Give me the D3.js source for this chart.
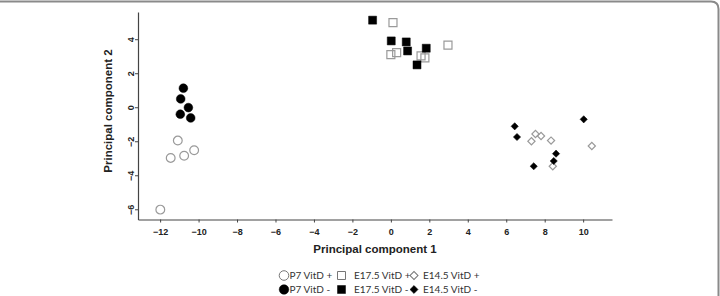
<!DOCTYPE html>
<html>
<head>
<meta charset="utf-8">
<script src="https://cdn.jsdelivr.net/npm/d3@7"></script>
<style>
  body { margin: 0; background: #fff; }
  svg { display: block; }
</style>
</head>
<body>
<div class="chart"></div>
<script>
// PCA scores
var p7Plus   = [[-11.08,-1.96],[-11.45,-2.98],[-10.75,-2.85],[-10.23,-2.53],[-11.99,-6.02]];
var p7Minus  = [[-10.79,1.12],[-10.93,0.49],[-10.53,-0.02],[-10.95,-0.41],[-10.41,-0.63]];
var e175Plus = [[0.11,4.98],[0.0,3.09],[0.3,3.21],[1.57,3.02],[1.77,2.9],[2.97,3.65]];
var e175Minus= [[-0.95,5.12],[0.02,3.9],[0.80,3.84],[0.87,3.31],[1.84,3.47],[1.36,2.49]];
var e145Plus = [[7.52,-1.57],[7.81,-1.69],[7.31,-2.0],[8.33,-1.96],[10.45,-2.28],[8.42,-3.47]];
var e145Minus= [[6.44,-1.12],[6.56,-1.75],[10.03,-0.71],[8.59,-2.73],[8.47,-3.16],[7.43,-3.47]];

var xTicks = [-12,-10,-8,-6,-4,-2,0,2,4,6,8,10];
var yTicks = [-6,-4,-2,0,2,4];

var legendLabels = ["P7 VitD +","E17.5 VitD +","E14.5 VitD +","P7 VitD -","E17.5 VitD -","E14.5 VitD -"];

var w = 720, h = 296;

var svg = d3.select("div.chart")
            .append("svg")
            .attr("width", w)
            .attr("height", h);

// frame of the figure (top + right edge, rounded corner)
svg.append("path")
   .attr("d", "M0,1.5 H711 Q718.5,1.5 718.5,9 V296")
   .attr("fill", "none")
   .attr("stroke", "#8a8a8a")
   .attr("stroke-width", 2);

var x = d3.scaleLinear().domain([-13.15, 11.5]).range([138, 612]);
var y = d3.scaleLinear().domain([-6.6, 5.6]).range([219.5, 12]);

var axisColor = "#444";

// axes
var gx = svg.append("g")
   .attr("transform", "translate(0," + y.range()[0] + ")")
   .call(d3.axisBottom(x).tickValues(xTicks).tickSize(3).tickSizeOuter(0).tickFormat(d3.format("d")));

var gy = svg.append("g")
   .attr("transform", "translate(" + x.range()[0] + ",0)")
   .call(d3.axisLeft(y).tickValues(yTicks).tickSize(3).tickSizeOuter(0).tickFormat(d3.format("d")));

[gx, gy].forEach(function(g){
  g.select(".domain").attr("stroke", axisColor).attr("stroke-width", 1.2);
  g.selectAll(".tick line").attr("stroke", axisColor);
  g.selectAll("text")
   .attr("fill", "#222")
   .attr("font-family", "Liberation Sans, Arial, sans-serif")
   .attr("font-weight", "bold")
   .attr("font-size", 9);
});
gx.selectAll(".tick text").attr("dy", "1.1em");

// y labels rotated
gy.selectAll(".tick text")
  .attr("x", null)
  .attr("text-anchor", "middle")
  .attr("transform", "translate(-7,0) rotate(-90)")
  .attr("dy", "0.35em");

// axis titles
svg.append("text")
   .attr("x", 375).attr("y", 253)
   .attr("text-anchor", "middle")
   .attr("font-family", "Liberation Sans, Arial, sans-serif")
   .attr("font-weight", "bold")
   .attr("font-size", 11.5)
   .attr("fill", "#222")
   .text("Principal component 1");

svg.append("text")
   .attr("transform", "translate(112,111) rotate(-90)")
   .attr("text-anchor", "middle")
   .attr("font-family", "Liberation Sans, Arial, sans-serif")
   .attr("font-weight", "bold")
   .attr("font-size", 11.5)
   .attr("fill", "#222")
   .text("Principal component 2");

var openStroke = "#9a9a9a";

// square symbol, rotated 45deg for the diamonds
function symbolPath(kind, size){
  return d3.symbol().type(kind === "circle" ? d3.symbolCircle : d3.symbolSquare).size(size)();
}
function rot(kind){ return kind === "diamond" ? " rotate(45)" : ""; }

function drawSeries(data, kind, size, filled){
  svg.append("g")
     .selectAll("path")
     .data(data)
     .enter()
     .append("path")
       .attr("d", symbolPath(kind, size))
       .attr("transform", function(d){ return "translate(" + x(d[0]) + "," + y(d[1]) + ")" + rot(kind); })
       .attr("fill", filled ? "#000" : "none")
       .attr("stroke", filled ? "#000" : openStroke)
       .attr("stroke-width", filled ? 0.5 : 1.2);
}

drawSeries(p7Plus, "circle", 60, false);
drawSeries(p7Minus, "circle", 60, true);
drawSeries(e175Plus, "square", 64, false);
drawSeries(e175Minus, "square", 64, true);
drawSeries(e145Plus, "diamond", 26, false);
drawSeries(e145Minus, "diamond", 26, true);

// legend
var legendKinds = ["circle", "square", "diamond"];
var legendIconX = [284, 341.5, 414];
var legendTextX = [289.5, 354, 423];
var legendRowY = [275.5, 289.5];
var lg = svg.append("g");

legendLabels.forEach(function(lbl, i){
  var col = i % 3, row = Math.floor(i / 3);
  var filled = row === 1;
  var sz = col === 0 ? 72 : (col === 1 ? 64 : 32);
  lg.append("path")
    .attr("d", symbolPath(legendKinds[col], sz))
    .attr("transform", "translate(" + legendIconX[col] + "," + legendRowY[row] + ")" + rot(legendKinds[col]))
    .attr("fill", filled ? "#000" : "#fff")
    .attr("stroke", filled ? "#000" : "#777")
    .attr("stroke-width", filled ? 0.5 : 1);
  lg.append("text")
    .attr("x", legendTextX[col])
    .attr("y", legendRowY[row])
    .attr("dy", "0.35em")
    .attr("font-family", "Lato, Open Sans, sans-serif")
    .attr("font-size", 10)
    .attr("fill", "#333")
    .text(lbl);
});
</script>
</body>
</html>
